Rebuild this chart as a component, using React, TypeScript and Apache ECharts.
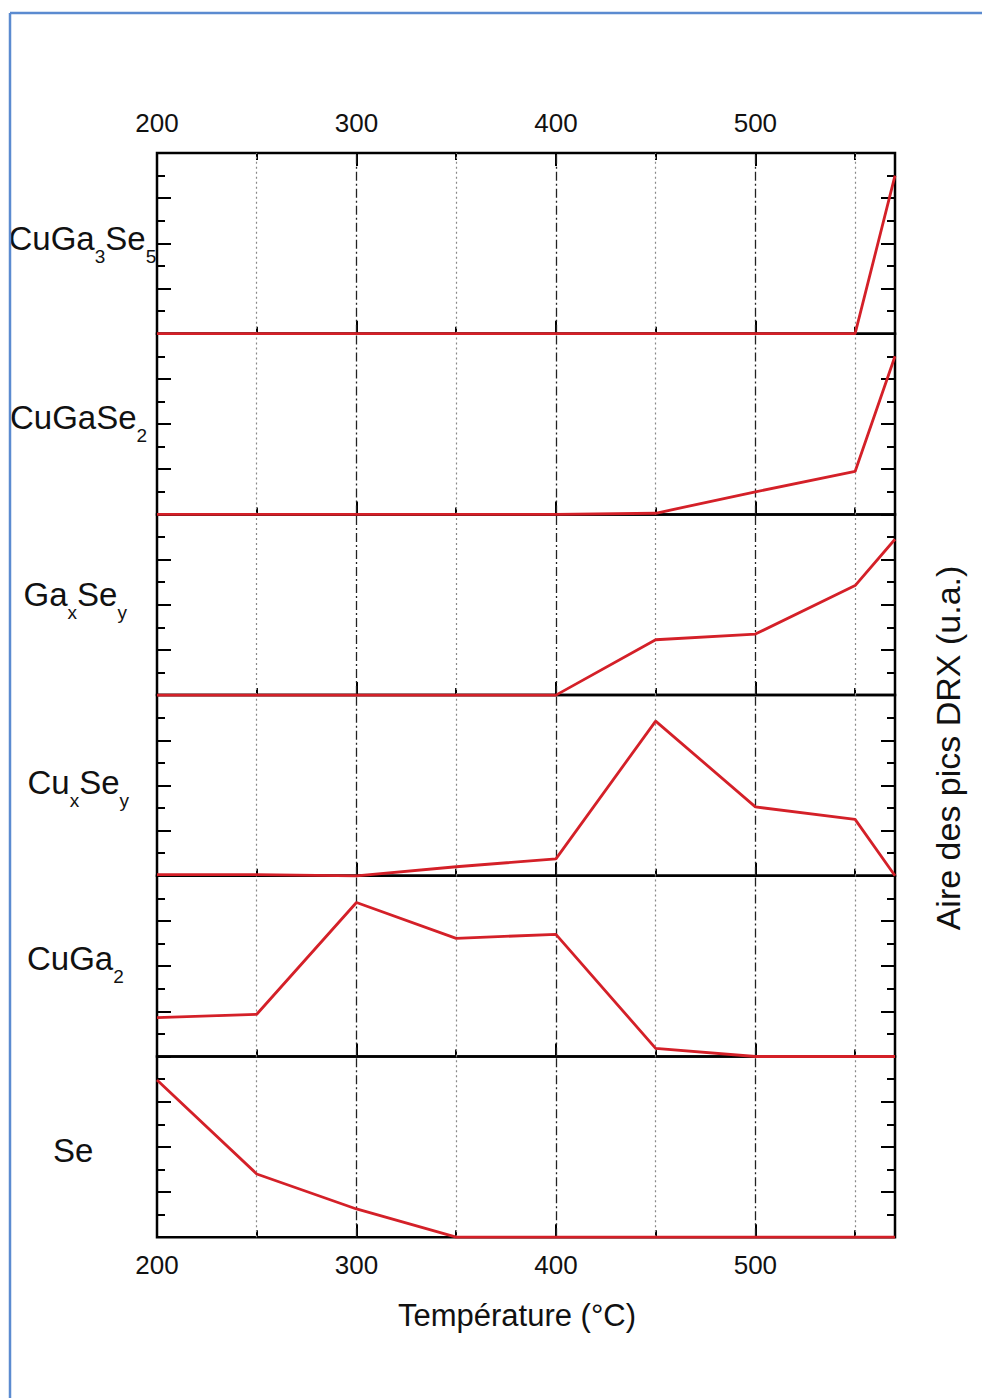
import React, { useEffect, useRef } from 'react';
import * as echarts from 'echarts';

// ---------- data ----------
const temperatures = [200, 250, 300, 350, 400, 450, 500, 550, 570];
const cuGa3Se5 = [0, 0, 0, 0, 0, 0, 0, 0, 7.0];
const cuGaSe2 = [0, 0, 0, 0, 0, 0.05, 1.0, 1.9, 7.0];
const gaxSey = [0, 0, 0, 0, 0, 2.45, 2.7, 4.85, 6.9];
const cuxSey = [0.05, 0.05, 0, 0.4, 0.75, 6.85, 3.05, 2.5, 0];
const cuGa2 = [1.72, 1.87, 6.82, 5.23, 5.41, 0.36, 0, 0, 0];
const se = [6.96, 2.8, 1.25, 0, 0, 0, 0, 0, 0];

const panelValues = [cuGa3Se5, cuGaSe2, gaxSey, cuxSey, cuGa2, se];
const panelLabels = [
  '{m|CuGa}{s|3}{m|Se}{s|5}',
  '{m|CuGaSe}{s|2}',
  '{m|Ga}{s|x}{m|Se}{s|y}',
  '{m|Cu}{s|x}{m|Se}{s|y}',
  '{m|CuGa}{s|2}',
  '{m|Se}',
];
const dottedGrid = [250, 350, 450, 550];
const dashDotGrid = [300, 400, 500];
const xTitle = 'Température (°C)';
const yTitle = 'Aire des pics DRX (u.a.)';

// ---------- layout ----------
const FONT = '"Liberation Sans", Arial, Helvetica, sans-serif';
const GRID_LEFT = 157;
const GRID_WIDTH = 738;
const GRID_TOP = 153;
const PANEL_H = 180.7;
const labelPos = [
  [8.5, 238.5],
  [10, 417],
  [23.5, 594],
  [27.5, 782],
  [27, 958],
  [53, 1150],
];

export default function App() {
  const ref = useRef<HTMLDivElement>(null);
  useEffect(() => {
    if (!ref.current) return;
    const chart = echarts.init(ref.current, null, { renderer: 'svg' });
    const n = panelValues.length;
    const grids: any[] = [];
    const xAxes: any[] = [];
    const yAxes: any[] = [];
    const series: any[] = [];
    const graphics: any[] = [];

    const tickStyle = { color: '#000', width: 2 };

    for (let i = 0; i < n; i++) {
      grids.push({
        left: GRID_LEFT,
        top: GRID_TOP + i * PANEL_H,
        width: GRID_WIDTH,
        height: PANEL_H,
        show: true,
        borderColor: '#000',
        borderWidth: 2.5,
        backgroundColor: 'transparent',
      });
      const baseX = xAxes.length;
      const mkX = (position: string, interval: number, len: number, labels: boolean, margin: number) => ({
        type: 'value',
        gridIndex: i,
        position,
        min: 200,
        max: 570,
        interval,
        axisLine: { show: false, onZero: false },
        axisTick: { show: true, inside: true, length: len, lineStyle: tickStyle },
        splitLine: { show: false },
        axisLabel: {
          show: labels,
          margin,
          fontSize: 26,
          fontFamily: FONT,
          color: '#111',
          formatter: (v: number) => (v % 100 === 0 ? String(v) : ''),
        },
      });
      xAxes.push(mkX('bottom', 100, 13, i === n - 1, 14.5));
      xAxes.push(mkX('bottom', 50, 7, false, 14));
      if (i === 0) {
        xAxes.push(mkX('top', 100, 13, true, 17.5));
        xAxes.push(mkX('top', 50, 7, false, 14));
      }
      const baseY = yAxes.length;
      const mkY = (position: string) => ({
        type: 'value',
        gridIndex: i,
        position,
        min: 0,
        max: 8,
        interval: 2,
        axisLine: { show: false, onZero: false },
        axisTick: { show: true, inside: true, length: 14, lineStyle: tickStyle },
        minorTick: { show: true, splitNumber: 2, length: 8, lineStyle: tickStyle },
        splitLine: { show: false },
        minorSplitLine: { show: false },
        axisLabel: { show: false },
      });
      yAxes.push(mkY('left'));
      yAxes.push(mkY('right'));

      series.push({
        type: 'line',
        xAxisIndex: baseX,
        yAxisIndex: baseY,
        data: temperatures.map((t, j) => [t, panelValues[i][j]]),
        showSymbol: false,
        clip: false,
        z: 4,
        lineStyle: { color: '#d42028', width: 2.8 },
        markLine: {
          silent: true,
          symbol: ['none', 'none'],
          label: { show: false },
          z: 1,
          data: [
            ...dottedGrid.map((v) => ({
              xAxis: v,
              lineStyle: { color: '#888', width: 1.2, type: [2, 3] },
            })),
            ...dashDotGrid.map((v) => ({
              xAxis: v,
              lineStyle: { color: '#222', width: 1.3, type: [9, 3, 2, 3] },
            })),
          ],
        },
      });

      graphics.push({
        type: 'text',
        x: labelPos[i][0],
        y: labelPos[i][1],
        style: {
          text: panelLabels[i],
          align: 'left',
          verticalAlign: 'middle',
          rich: {
            m: { fontSize: 33, fontFamily: FONT, fill: '#111' },
            s: { fontSize: 19, fontFamily: FONT, fill: '#111', padding: [36, 0, 0, 0] },
          },
        },
      });
    }

    // blue frame
    graphics.push({
      type: 'line',
      shape: { x1: 10, y1: 13, x2: 982, y2: 13 },
      style: { stroke: '#5b8bd0', lineWidth: 2.5 },
    });
    graphics.push({
      type: 'line',
      shape: { x1: 10, y1: 13, x2: 10, y2: 1398 },
      style: { stroke: '#5b8bd0', lineWidth: 2.5 },
    });
    graphics.push({
      type: 'text',
      x: 517,
      y: 1315,
      style: { text: xTitle, fontSize: 31, fontFamily: FONT, fill: '#111', align: 'center', verticalAlign: 'middle' },
    });
    graphics.push({
      type: 'text',
      x: 947.5,
      y: 748,
      rotation: Math.PI / 2,
      style: { text: yTitle, fontSize: 34, fontFamily: FONT, fill: '#111', align: 'center', verticalAlign: 'middle' },
    });

    chart.setOption({
      animation: false,
      backgroundColor: '#fff',
      grid: grids,
      xAxis: xAxes,
      yAxis: yAxes,
      series,
      graphic: graphics,
    });
    return () => chart.dispose();
  }, []);
  return (
    <div
      ref={ref}
      style={{ position: 'absolute', left: 0, top: 0, width: 982, height: 1398 }}
    />
  );
}
